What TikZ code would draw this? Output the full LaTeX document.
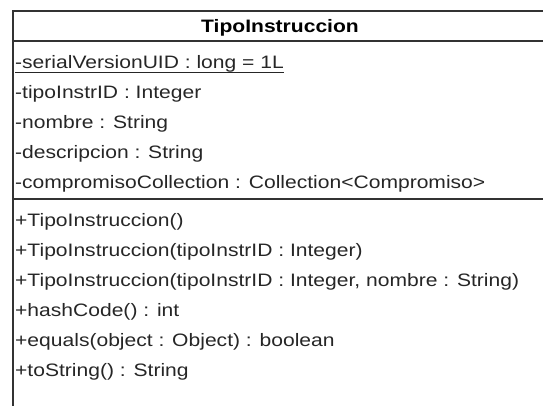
\documentclass[tikz,border=0pt]{standalone}
\usepackage{fontspec}
\setmainfont{Liberation Sans}[FakeStretch=1.17]
\begin{document}
\begin{tikzpicture}[x=1pt,y=-1pt,font=\fontsize{18}{20}\selectfont,
   member/.style={anchor=base west,inner sep=0pt,text=black!85},
   frame/.style={draw=black!80,line width=1.5pt}]
  \useasboundingbox (0,0) rectangle (543,405);
  \clip (0,0) rectangle (543,405);
  % class box
  \draw[frame] (13,430) -- (13,11) -- (556,11) -- (556,430);
  \draw[frame] (13,41) -- (556,41);
  \draw[frame] (13,199) -- (556,199);
  \node[anchor=base,inner sep=0pt,font=\fontsize{18}{20}\selectfont\bfseries] (title) at (280,32) {TipoInstruccion};
  % attributes
  \node[member] (serial) at (15,68) {-serialVersionUID : long = 1L};
  \draw[black!85,line width=1pt] ([yshift=-4pt]serial.base west) -- ([yshift=-4pt]serial.base east);
  \node[member] (id) at (15,98) {-tipoInstrID : Integer};
  \node[member] (nombre) at (15,128) {-nombre : String};
  \node[member] (desc) at (15,158) {-descripcion : String};
  \node[member] (coll) at (15,188) {-compromisoCollection : Collection<Compromiso>};
  % operations
  \node[member] (ctor) at (15,226) {+TipoInstruccion()};
  \node[member] (ctorid) at (15,256) {+TipoInstruccion(tipoInstrID : Integer)};
  \node[member] (ctorfull) at (15,286) {+TipoInstruccion(tipoInstrID : Integer, nombre : String)};
  \node[member] (hash) at (15,316) {+hashCode() : int};
  \node[member] (equals) at (15,346) {+equals(object : Object) : boolean};
  \node[member] (tostr) at (15,376) {+toString() : String};
\end{tikzpicture}
\end{document}
